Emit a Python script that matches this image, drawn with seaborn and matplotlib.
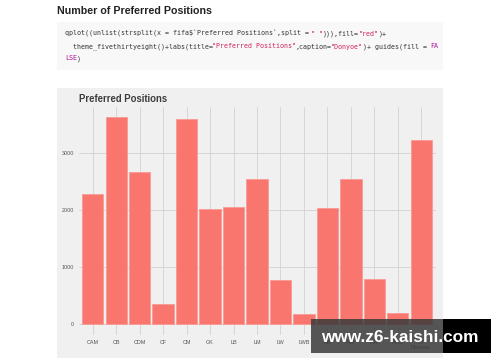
import numpy as np
import pandas as pd
import matplotlib
matplotlib.use("Agg")
import matplotlib.pyplot as plt
from matplotlib.patches import Rectangle
import seaborn as sns

# data
positions = ["CAM", "CB", "CDM", "CF", "CM", "GK", "LB", "LM", "LW", "LWB",
             "RB", "RM", "RW", "RWB", "ST"]
counts = [2275, 3620, 2655, 350, 3580, 2020, 2045, 2540, 780, 185,
          2030, 2535, 800, 190, 3215]
y_ticks = [0, 1000, 2000, 3000]

df = pd.DataFrame({"pos": positions, "n": counts})

sns.set_style("white")
plt.rcParams["font.family"] = ["Liberation Sans", "DejaVu Sans"]

W, H = 500, 362
fig = plt.figure(figsize=(W / 100, H / 100), dpi=100)
fig.patch.set_facecolor("white")
renderer = fig.canvas.get_renderer()

def fx(px):
    return px / W

def fy(py):
    return 1 - py / H

def fit_text(x, y, txt, width_px, **kw):
    # size a text so that it spans width_px pixels
    t = fig.text(fx(x), fy(y), txt, fontsize=10, **kw)
    w = t.get_window_extent(renderer).width
    t.set_fontsize(10 * width_px / w)
    return t

def rect(x0, y0, x1, y1, **kw):
    fig.patches.append(Rectangle((fx(x0), fy(y1)), fx(x1) - fx(x0), fy(y0) - fy(y1),
                                 transform=fig.transFigure, edgecolor="none", **kw))

# page heading
fit_text(57, 11, "Number of Preferred Positions", 154, fontweight="bold",
         color="#222222", ha="left", va="center")

# code block
rect(57, 21.5, 443, 69.5, facecolor="#f8f8f8", zorder=-2)
dark, strc, kw = "#333333", "#d0245a", "#b0179b"
code_lines = [
    (65, 33.5, [("qplot((unlist(strsplit(x = fifa$`Preferred Positions`,split = ", dark),
                ('" "', strc), ("))),fill=", dark), ('"red"', strc), (")+", dark)]),
    (65, 46.5, [("  theme_fivethirtyeight()+labs(title=", dark),
                ('"Preferred Positions"', strc), (",caption=", dark),
                ('"Donyoe"', strc), (")+ guides(fill = ", dark), ("FA", kw)]),
    (65, 58.5, [("LSE", kw), (")", dark)]),
]
cw = 3.97
probe = fig.text(0, 0, "x" * 20, fontsize=10, family="DejaVu Sans Mono")
code_fs = 10 * cw * 20 / probe.get_window_extent(renderer).width
probe.remove()
for x0, y0, segs in code_lines:
    i = 0
    for txt, col in segs:
        fig.text(fx(x0 + i * cw), fy(y0), txt, fontsize=code_fs, color=col,
                 family="DejaVu Sans Mono", ha="left", va="center")
        i += len(txt)

# chart panel (fivethirtyeight look)
rect(57, 87.5, 443, 357.5, facecolor="#f0f0f0", zorder=-2)
fit_text(79, 98.5, "Preferred Positions", 88, fontweight="bold",
         color="#3c3c3c", ha="left", va="center")

ax = fig.add_axes([fx(78.5), fy(334.7), fx(435.5) - fx(78.5), fy(106.5) - fy(334.7)])
ax.set_facecolor("#f0f0f0")
sns.barplot(data=df, x="pos", y="n", order=positions, color="#f8766d",
            saturation=1, width=0.9, edgecolor="#fa9a94", linewidth=0.6, ax=ax, zorder=3)
ax.set_xlim(-0.6, len(positions) - 0.4)
ax.set_ylim(-181, 3804)
ax.set_yticks(y_ticks)
ax.set_yticklabels([str(v) for v in y_ticks])
ax.grid(True, color="#d2d2d2", linewidth=0.6, zorder=0)
ax.set_axisbelow(True)
for s in ax.spines.values():
    s.set_visible(False)
ax.set_xlabel("")
ax.set_ylabel("")
ax.tick_params(axis="both", length=0, labelsize=3.9, labelcolor="#555555")
ax.tick_params(axis="y", pad=3)
ax.tick_params(axis="x", pad=4)

# caption
fig.text(fx(430), fy(347), "Donyoe", fontsize=4, color="#555555", ha="right", va="center")

# watermark overlay
rect(311, 319, 443, 352.5, facecolor="#3a3a3a", alpha=0.85, zorder=5)
rect(443, 319, 491, 352.5, facecolor="black", zorder=5)
fit_text(321, 337, "www.z6-kaishi.com", 157, fontweight="bold",
         color="white", ha="left", va="center", zorder=6)

fig.savefig("out.png", dpi=100)
